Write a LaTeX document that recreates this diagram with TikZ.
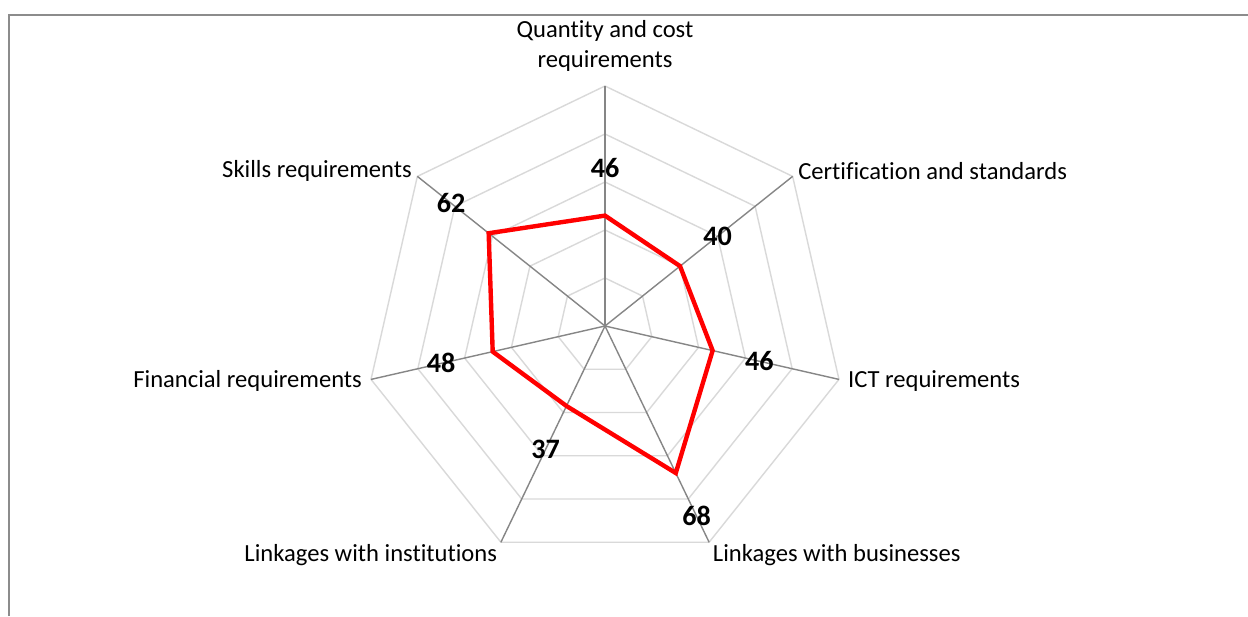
\documentclass[tikz,border=0pt]{standalone}
\usepackage{fontspec}
\setmainfont{Carlito}[RawFeature={-liga;-clig;-calt}]
\usepackage{xcolor}
\usetikzlibrary{positioning}
\usetikzlibrary{calc}

\definecolor{gridgray}{HTML}{D9D9D9}
\definecolor{axisgray}{HTML}{868686}
\definecolor{framegray}{HTML}{8C8C8C}

\tikzset{
  ring/.style={draw=gridgray, line width=0.8pt},
  spoke/.style={draw=axisgray, line width=0.8pt},
  series/.style={draw=red, line width=2.5pt},
  axislabel/.style={font=\fontsize{14}{17}\selectfont, inner sep=2pt, align=center},
  vallabel/.style={font=\fontsize{16}{19}\selectfont\bfseries, inner sep=0pt}
}

\begin{document}
\begin{tikzpicture}[x=0.02cm,y=0.02cm]
\useasboundingbox (0,0) rectangle (1248,616);
\fill [white] (0,0) rectangle (1248,616);

% chart area frame
\draw [framegray, line width=0.9pt] (9,0) -- (9,601) -- (1248,601);

\begin{scope}[shift={(605,290)}]
% rings
\draw [ring] (90:48) -- (38.57:48) -- (-12.86:48) -- (-64.29:48) -- (-115.71:48) -- (-167.14:48) -- (141.43:48) -- cycle;
\draw [ring] (90:96) -- (38.57:96) -- (-12.86:96) -- (-64.29:96) -- (-115.71:96) -- (-167.14:96) -- (141.43:96) -- cycle;
\draw [ring] (90:144) -- (38.57:144) -- (-12.86:144) -- (-64.29:144) -- (-115.71:144) -- (-167.14:144) -- (141.43:144) -- cycle;
\draw [ring] (90:192) -- (38.57:192) -- (-12.86:192) -- (-64.29:192) -- (-115.71:192) -- (-167.14:192) -- (141.43:192) -- cycle;
\draw [ring] (90:240) -- (38.57:240) -- (-12.86:240) -- (-64.29:240) -- (-115.71:240) -- (-167.14:240) -- (141.43:240) -- cycle;

% spokes
\coordinate (centre) at (0,0);
\coordinate (qc) at (90:240);
\coordinate (cs) at (38.57:240);
\coordinate (ict) at (-12.86:240);
\coordinate (lb) at (-64.29:240);
\coordinate (li) at (-115.71:240);
\coordinate (fin) at (-167.14:240);
\coordinate (sk) at (141.43:240);

\draw [spoke] (centre) -- (qc);
\draw [spoke] (centre) -- (cs);
\draw [spoke] (centre) -- (ict);
\draw [spoke] (centre) -- (lb);
\draw [spoke] (centre) -- (li);
\draw [spoke] (centre) -- (fin);
\draw [spoke] (centre) -- (sk);

% data points (value x 2.4)
\coordinate (p1) at (90:110.4);
\coordinate (p2) at (38.57:96);
\coordinate (p3) at (-12.86:110.4);
\coordinate (p4) at (-64.29:163.2);
\coordinate (p5) at (-115.71:88.8);
\coordinate (p6) at (-167.14:115.2);
\coordinate (p7) at (141.43:148.8);

\draw [series] (p1) -- (p2) -- (p3) -- (p4) -- (p5) -- (p6) -- (p7) -- cycle;

% value labels
\node [vallabel] (v1) at (90:158.4) {46};
\node [vallabel] (v2) at (38.57:144) {40};
\node [vallabel] (v3) at (-12.86:158.4) {46};
\node [vallabel] (v4) at (-64.29:211.2) {68};
\node [vallabel] (v5) at (-115.71:136.8) {37};
\node [vallabel] (v6) at (-167.14:168) {48};
\node [vallabel] (v7) at (141.43:196.8) {62};

% category labels
\node [axislabel, above=6pt of qc] (lqc) {Quantity and cost\\requirements};
\node [axislabel, anchor=west, xshift=1pt, yshift=3pt] (lcs) at (cs) {Certification and standards};
\node [axislabel, anchor=west, xshift=3pt, yshift=-1pt] (lict) at (ict) {ICT requirements};
\node [axislabel, anchor=north west, yshift=1pt] (llb) at (lb) {Linkages with businesses};
\node [axislabel, anchor=north east, yshift=1pt] (lli) at (li) {Linkages with institutions};
\node [axislabel, anchor=east, xshift=-3pt, yshift=-1pt] (lfin) at (fin) {Financial requirements};
\node [axislabel, anchor=east, xshift=-1pt, yshift=3pt] (lsk) at (sk) {Skills requirements};
\end{scope}

\end{tikzpicture}
\end{document}
